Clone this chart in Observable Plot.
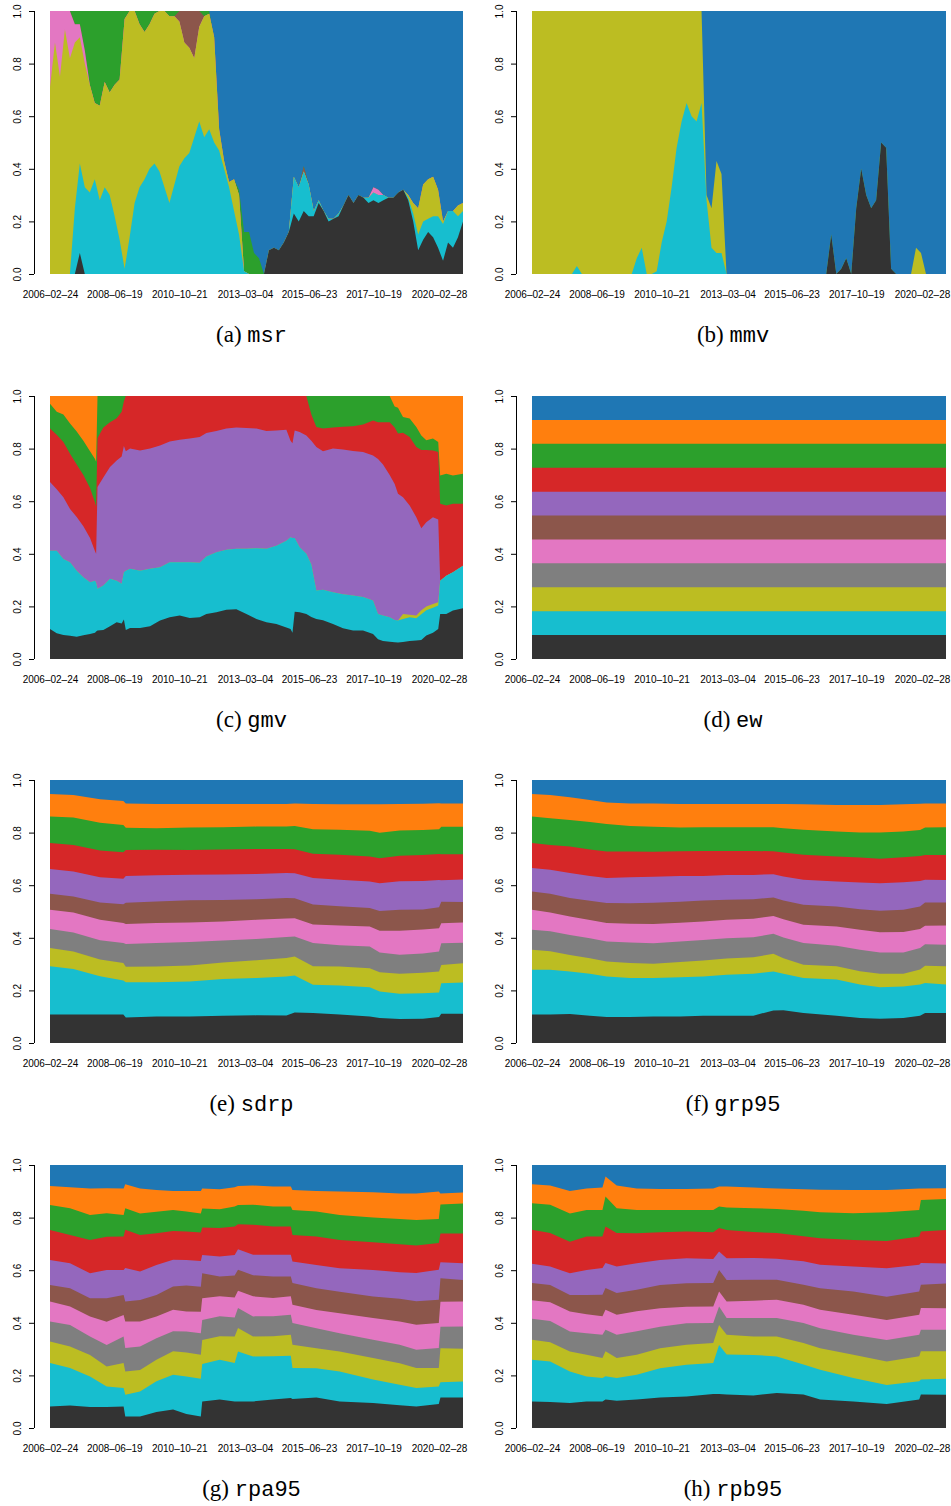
<!DOCTYPE html>
<html><head><meta charset="utf-8">
<script src="https://cdn.jsdelivr.net/npm/d3@7"></script>
<script src="https://cdn.jsdelivr.net/npm/@observablehq/plot@0.6"></script>
<style>
html,body{margin:0;padding:0;background:#fff}
body{width:951px;height:1506px;position:relative;overflow:hidden}
.panel{position:absolute}
.cap{position:absolute;text-align:center;font-family:"Liberation Serif","Times New Roman",serif;font-size:23px;line-height:24px;color:#000;white-space:nowrap}
.cap .tt{font-family:"Liberation Mono","DejaVu Sans Mono",monospace;font-size:22px}
</style></head><body>
<script>
// ---------- categories, colours, ticks ----------
const assets = ["A01","A02","A03","A04","A05","A06","A07","A08","A09","A10","A11"]; // bottom -> top
const assetColors = ["#333333","#17becf","#bcbd22","#7f7f7f","#e377c2","#8c564b","#9467bd","#d62728","#2ca02c","#ff7f0e","#1f77b4"];
const tickLabels = ["2006-02-24","2008-06-19","2010-10-21","2013-03-04","2015-06-23","2017-10-19","2020-02-28"];
const yTicks = [0, 0.2, 0.4, 0.6, 0.8, 1.0];
const START = 2006.148, END = 2021.02; // decimal years of first/last observation

// ---------- (a) msr : weights in %, 84 evenly spaced dates ----------
const msrDark = [0,0,0,0,0,0,8,0,0,0,0,0, 0,0,0,0,0,0,0,0,0,0,0,0, 0,0,0,0,0,0,0,0,0,0,0,0, 0,0,0,0,0,0,0,0,9,10,9,12, 16,23,20,24,22,22,27,24,20,21,22,26, 30,27,30,29,27,28,27,28,29,29,31,32, 28,20,9,13,16,14,10,5,12,10,14,20];
const msrCyan = [0,0,0,0,0,25,34,33,31,36,28,33, 30,22,13,2,14,27,33,36,40,42,39,33, 27,34,41,44,46,52,58,52,55,50,47,40, 33,24,15,1,0,0,0,0,0,0,0,0, 0,14,13,15,12,2,1,0,1,0,1,0, 0,0,0,0,2,3,3,2,0,0,0,0, 1,3,6,7,5,8,12,14,12,14,8,4];
const msrOlive = [71,88,75,93,82,63,48,47,41,29,36,40, 39,50,61,95,86,73,62,56,55,57,61,67, 71,64,55,44,40,30,36,46,44,40,8,3, 2,12,15,0,0,0,0,0,0,0,0,0, 0,0,0,0,0,0,0,0,0,0,0,0, 0,0,0,0,0,0,0,0,0,0,0,0, 1,4,10,14,15,15,10,1,0,0,4,3];
const msrPink = [29,12,25,7,18,7,5,5,0,0,0,0, 0,0,0,0,0,0,0,0,0,0,0,0, 0,0,0,0,0,0,0,0,0,0,0,0, 0,0,0,0,0,0,0,0,0,0,0,0, 0,0,0,0,0,0,0,0,0,0,0,0, 0,0,0,0,0,2,2,0,0,0,0,0, 0,0,0,0,0,0,0,0,0,0,0,0];
const msrBrown = [0,0,0,0,0,0,0,0,0,0,0,0, 0,0,0,0,0,0,0,0,0,0,0,0, 0,0,4,12,14,18,6,0,0,0,0,0, 0,0,0,0,0,0,0,0,0,0,0,0, 0,0,0,2,0,0,0,0,0,0,0,0, 0,0,0,0,0,0,0,0,0,0,0,0, 0,0,0,0,0,0,0,0,0,0,0,0];
const msrGreen = [0,0,0,0,0,5,5,15,28,35,36,27, 31,28,26,3,0,0,5,8,5,1,0,0, 2,2,0,0,0,0,0,2,1,0,0,0, 0,0,2,15,16,8,6,0,0,0,0,0, 0,0,0,0,0,0,0,0,0,0,0,0, 0,0,0,0,0,0,0,0,0,0,0,0, 0,0,0,0,0,0,0,0,0,0,0,0];
const msrBlue = [0,0,0,0,0,0,0,0,0,0,0,0, 0,0,0,0,0,0,0,0,0,0,0,0, 0,0,0,0,0,0,0,0,0,10,45,57, 65,64,68,84,84,92,94,100,91,90,91,88, 84,63,67,59,66,76,72,76,79,79,77,74, 70,73,70,71,71,67,68,70,71,71,69,68, 70,73,75,66,64,63,68,80,76,76,74,73];

// ---------- (b) mmv ----------
const mmvDark = [0,0,0,0,0,0,0,0,0,0,0,0, 0,0,0,0,0,0,0,0,0,0,0,0, 0,0,0,0,0,0,0,0,0,0,0,0, 0,0,0,0,0,0,0,0,0,0,0,0, 0,0,0,0,0,0,0,0,0,0,0,0, 15,0,2,6,0,25,40,30,25,28,50,48, 2,0,0,0,0,0,0,0,0,0,0,0];
const mmvCyan = [0,0,0,0,0,0,0,0,0,3,0,0, 0,0,0,0,0,0,0,0,0,6,10,0, 0,1,12,20,33,48,58,65,60,58,65,28, 10,8,8,0,0,0,0,0,0,0,0,0, 0,0,0,0,0,0,0,0,0,0,0,0, 0,0,0,0,0,0,0,0,0,0,0,0, 0,0,0,0,0,0,0,0,0,0,0,0];
const mmvOlive = [100,100,100,100,100,100,100,100,100,97,100,100, 100,100,100,100,100,100,100,100,100,94,90,100, 100,99,88,80,67,52,42,35,40,42,35,2, 15,35,30,0,0,0,0,0,0,0,0,0, 0,0,0,0,0,0,0,0,0,0,0,0, 0,0,0,0,0,0,0,0,0,0,0,0, 0,0,0,0,0,10,8,0,0,0,0,0];
const mmvBlue = [0,0,0,0,0,0,0,0,0,0,0,0, 0,0,0,0,0,0,0,0,0,0,0,0, 0,0,0,0,0,0,0,0,0,0,0,70, 75,57,62,100,100,100,100,100,100,100,100,100, 100,100,100,100,100,100,100,100,100,100,100,100, 85,100,98,94,100,75,60,70,75,72,50,52, 98,100,100,100,100,90,92,100,100,100,100,100];

// ---------- (c) gmv ----------
const gmvT = [2006.148,2006.39,2006.63,2006.87,2007.11,2007.35,2007.59,2007.77,2007.81,2007.86, 2008.07,2008.31,2008.55,2008.73,2008.81,2008.88,2009.03,2009.39,2009.75,2010.11, 2010.46,2010.82,2011.18,2011.54,2011.78,2012.14,2012.50,2012.86,2013.22,2013.58, 2013.94,2014.30,2014.66,2014.81,2014.88,2014.96,2015.14,2015.38,2015.56,2015.74, 2015.98,2016.34,2016.70,2017.06,2017.42,2017.78,2017.96,2018.14,2018.38,2018.56, 2018.68,2018.86,2019.10,2019.34,2019.52,2019.70,2019.94,2020.13,2020.20,2020.42, 2020.66,2021.02];
const gmvDark = [11.4,9.8,9.1,8.8,8.5,9.0,9.5,10.0,10.5,10.8, 11.0,12.5,14.0,13.5,15.0,11.0,11.8,11.8,12.5,14.6, 15.9,16.5,15.6,15.9,17.1,17.8,18.7,18.9,17.1,15.2, 14.0,13.3,12.0,11.4,10.0,18.0,17.8,17.1,16.0,15.2, 14.7,13.3,11.7,10.8,10.8,9.5,7.5,6.8,6.6,6.4, 6.3,6.5,6.8,7.0,7.2,8.9,10.0,11.4,17.1,17.1, 18.4,19.3];
const gmvCyan = [29.8,31.4,28.9,28.0,25.1,22.1,19.7,19.8,18.5,15.9, 16.9,18.0,15.8,15.1,18.0,22.6,22.5,21.8,21.8,20.3, 20.9,20.3,21.2,20.7,21.9,22.8,22.8,23.0,24.8,26.9, 27.9,29.8,33.0,34.9,36.0,28.0,24.7,22.9,20.0,10.8, 11.6,12.1,12.9,13.3,12.8,12.7,9.6,9.7,9.3,8.4, 8.3,8.7,9.1,8.5,9.8,9.6,9.5,8.9,12.7,14.6, 14.6,16.2];
const gmvOlive = [0,0,0,0,0,0,0,0,0,0, 0,0,0,0,0,0,0,0,0,0, 0,0,0,0,0,0,0,0,0,0, 0,0,0,0,0,0,0,0,0,0, 0,0,0,0,0,0,0,0,0,0, 0,1.9,0.9,1.0,1.5,1.5,1.4,1.3,0,0, 0,0];
const gmvPurple = [26.1,23.3,23.5,20.2,20.4,19.4,16.8,11.2,11.0,38.7, 41.1,42.5,45.7,48.4,48.0,45.4,45.7,45.7,45.7,46.3, 45.9,46.6,47.0,47.8,46.9,46.1,46.1,46.1,45.9,45.5, 44.8,43.8,42.2,36.7,36.0,40.9,43.8,45.0,47.1,54.6, 52.7,54.6,55.1,55.0,55.1,55.2,58.9,57.5,54.1,51.7, 48.2,44.4,41.6,37.4,31.2,32.0,33.0,31.4,0,0, 0,0];
const gmvRed = [20.3,20.8,21.0,21.0,20.0,19.5,19.0,18.5,18.0,18.6, 19.0,17.0,16.0,17.0,17.0,21.0,20.0,20.7,20.0,18.8, 17.3,16.6,16.2,15.6,14.1,13.3,12.4,12.0,12.2,12.4, 13.3,13.1,12.8,17.0,18.0,13.1,13.7,15.0,10.0,7.6, 8.6,8.0,8.6,9.4,10.5,13.3,14.0,16.0,20.0,21.5, 22.9,24.5,26.0,26.7,29.8,27.5,25.4,25.7,29.2,26.7, 26.0,23.5];
const gmvGreen = [9.5,8.7,10.5,11.5,12.5,13.0,14.0,16.5,17.0,16.0, 12.0,10.0,8.5,6.0,2.0,0,0,0,0,0, 0,0,0,0,0,0,0,0,0,0, 0,0,0,0,0,0,0,0,7.0,11.8, 12.4,12.0,11.7,11.5,10.8,9.3,10.0,10.0,10.0,8.0, 9.8,6.0,7.0,7.6,5.5,3.7,4.5,3.8,10.8,12.0, 10.8,11.4];
const gmvOrange = [2.9,6.0,7.0,10.5,13.5,17.0,21.0,24.0,25.0,0, 0,0,0,0,0,0,0,0,0,0, 0,0,0,0,0,0,0,0,0,0, 0,0,0,0,0,0,0,0,0,0, 0,0,0,0,0,0,0,0,0,4.0, 4.5,8.0,8.6,11.8,15.0,16.8,16.2,17.5,30.2,29.6, 30.2,29.6];

// ---------- (d) ew ----------
const ewT = [2006.148, 2021.02];
const ewW = [[9.09,9.09,9.09,9.09,9.09,9.09,9.09,9.09,9.09,9.09,9.09],[9.09,9.09,9.09,9.09,9.09,9.09,9.09,9.09,9.09,9.09,9.09]];

// ---------- (e) sdrp : rows = dates, columns = assets A01..A11 (%) ----------
const sdrpT = [2006.148,2006.99,2007.95,2008.79,2008.88,2009.98,2011.18,2012.38,2013.58,2014.66,2014.96,2015.62,2016.58,2017.66,2018.02,2018.74,2019.58,2020.16,2020.24,2021.02];
const sdrpW = [
[10.8,18.4,7.0,7.2,7.3,6.1,9.4,9.9,10.1,8.6,5.3],
[10.8,17.3,6.7,7.2,7.6,6.1,9.5,10.1,10.4,8.6,5.7],
[10.8,14.6,6.3,7.3,7.8,6.6,9.6,10.1,10.6,8.9,7.3],
[10.8,13.0,6.6,7.6,7.6,7.2,9.7,10.0,10.4,9.1,8.0],
[9.7,13.4,5.9,8.6,7.6,8.1,10.1,9.9,8.5,9.2,8.9],
[10.1,13.0,5.9,8.9,7.6,8.2,10.0,9.6,8.2,9.2,9.1],
[10.1,13.3,6.1,8.9,7.5,8.4,9.7,9.5,8.5,9.0,9.1],
[10.4,13.9,6.3,8.4,7.2,8.2,9.7,9.5,8.4,8.9,9.1],
[10.5,14.2,6.7,8.1,7.3,7.8,9.6,9.5,8.5,8.6,9.1],
[10.5,14.8,7.0,8.0,7.0,7.8,9.5,9.2,8.5,8.6,9.1],
[11.6,14.1,7.2,7.6,7.0,7.6,9.5,9.1,8.9,8.6,8.9],
[11.4,10.8,7.0,8.9,7.0,7.6,10.1,9.2,9.4,9.6,9.1],
[10.8,11.0,7.3,8.0,7.5,7.3,10.1,9.5,9.5,9.7,9.2],
[10.1,11.1,7.2,8.2,7.6,7.0,10.1,9.5,9.7,10.1,9.2],
[9.5,10.1,7.3,7.5,8.2,7.5,10.6,9.5,9.7,10.8,9.2],
[9.1,9.6,7.6,7.2,9.1,8.0,10.8,9.7,9.6,10.1,9.1],
[9.2,9.7,7.8,7.3,9.1,7.6,10.8,9.9,9.5,10.0,9.0],
[9.9,9.4,8.0,7.6,8.9,8.0,10.4,9.9,9.4,9.9,8.9],
[11.1,11.6,7.0,8.2,7.6,8.2,8.2,9.9,10.4,8.9,8.9],
[11.1,11.9,7.3,7.8,7.7,7.8,8.5,9.6,10.4,8.9,8.9]];

// ---------- (f) grp95 ----------
const grp95T = [2006.148,2006.80,2007.51,2008.23,2008.83,2009.67,2010.51,2011.47,2012.30,2013.14,2014.10,2014.82,2015.18,2015.90,2017.09,2017.93,2018.65,2019.49,2020.09,2020.27,2021.02];
const grp95W = [
[10.8,17.1,7.6,7.6,7.6,7.0,8.9,9.5,10.1,8.6,5.3],
[10.8,17.1,7.0,7.6,7.2,7.1,9.1,9.5,10.1,8.9,5.7],
[11.0,16.2,6.3,7.6,7.0,7.0,9.5,10.1,10.1,8.6,6.6],
[10.4,15.9,5.9,7.6,7.0,7.3,9.4,10.1,10.4,8.4,7.6],
[9.9,15.4,5.7,7.6,7.0,7.6,9.5,10.1,10.5,8.1,8.6],
[9.9,14.8,5.7,7.8,7.1,7.8,9.9,9.7,9.7,8.6,8.9],
[10.1,14.6,5.4,7.8,7.3,8.1,9.9,9.5,9.5,8.9,8.9],
[10.1,14.9,5.8,7.8,7.1,8.0,9.7,9.4,9.1,8.9,9.1],
[10.4,14.9,6.1,7.8,7.0,8.0,9.4,9.5,9.0,8.9,9.1],
[10.4,15.6,6.2,7.7,7.0,7.6,9.4,9.2,9.0,8.9,9.1],
[10.4,15.9,6.3,7.6,7.0,7.5,9.2,9.1,9.0,8.9,9.1],
[12.4,14.8,6.7,7.6,6.8,7.0,8.9,8.7,9.1,8.9,9.1],
[12.4,13.9,5.9,7.8,7.0,7.1,9.1,9.1,9.2,9.2,9.1],
[11.4,13.3,5.1,8.2,7.0,7.6,9.5,9.5,9.5,9.7,9.2],
[10.4,13.7,5.1,7.8,7.3,7.6,9.5,9.5,9.5,10.1,9.5],
[9.5,12.7,5.1,8.2,7.6,7.8,10.1,9.5,9.5,10.5,9.5],
[9.2,12.0,5.1,8.1,7.7,8.2,10.4,9.4,9.9,10.5,9.5],
[9.5,12.0,4.8,8.1,7.8,8.4,10.5,9.5,9.7,10.4,9.2],
[10.4,11.8,5.7,8.2,7.2,8.6,9.7,9.5,9.9,10.0,9.0],
[11.4,11.4,6.6,8.2,7.0,8.9,8.6,9.5,10.4,9.2,8.9],
[11.4,10.8,7.0,8.2,7.3,8.7,8.6,9.5,10.5,9.1,8.9]];

// ---------- (g) rpa95 ----------
const rpa95T = [2006.148,2006.87,2007.59,2008.19,2008.80,2008.86,2009.39,2009.98,2010.58,2011.06,2011.58,2011.63,2012.26,2012.80,2012.92,2013.46,2014.18,2014.82,2014.88,2015.74,2016.58,2017.78,2018.74,2019.34,2020.15,2020.21,2021.02];
const rpa95W = [
[8.2,16.5,8.2,7.6,7.6,6.3,9.5,11.4,9.5,7.2,8.0],
[8.6,14.2,8.2,8.2,7.0,7.0,9.5,10.8,10.1,8.0,8.5],
[8.0,11.6,8.2,7.0,7.6,7.0,9.5,12.7,9.5,10.1,8.9],
[8.0,7.8,7.6,8.2,8.9,8.9,10.8,12.7,8.9,9.5,8.9],
[8.2,7.0,9.5,10.1,8.2,7.6,9.5,12.7,8.2,10.1,8.9],
[4.4,8.2,8.9,8.9,10.1,7.6,12.7,14.6,8.2,9.1,7.3],
[4.4,9.5,8.2,8.9,9.5,8.2,10.8,13.9,8.2,9.5,8.9],
[6.1,11.6,8.2,8.2,8.2,8.2,11.4,12.0,8.2,8.2,9.5],
[7.0,13.3,8.9,7.6,8.2,8.9,10.1,11.0,8.0,7.2,9.9],
[5.3,14.3,9.1,8.0,7.6,9.9,9.7,10.8,7.6,7.8,9.9],
[4.4,14.3,9.1,8.2,8.2,9.5,9.7,10.9,7.2,8.5,9.9],
[10.1,14.2,9.2,7.6,8.2,9.5,7.0,10.4,7.3,7.6,8.9],
[10.8,15.2,8.9,7.6,7.6,7.6,7.6,10.8,7.2,7.6,9.2],
[10.1,14.6,10.1,7.2,7.6,8.4,7.8,10.8,7.6,7.3,8.5],
[10.1,19.0,8.9,7.6,6.6,8.0,7.8,9.5,7.3,7.2,8.0],
[10.1,17.1,7.6,7.6,7.6,8.0,7.8,11.4,7.6,7.3,7.8],
[10.8,16.5,7.6,7.6,7.0,8.2,8.2,10.8,7.6,7.6,8.2],
[11.4,16.1,8.0,7.6,7.0,7.6,8.2,10.8,7.6,7.6,8.2],
[11.0,11.8,8.9,8.2,7.0,8.2,8.2,10.1,9.5,7.6,9.5],
[11.6,11.1,7.6,7.6,7.0,8.2,8.9,10.8,9.5,7.8,9.9],
[10.1,11.4,7.6,7.0,7.6,8.2,8.9,10.8,9.5,8.9,10.1],
[9.5,8.9,8.2,7.0,8.2,8.2,10.1,10.5,9.4,9.6,10.4],
[8.6,7.8,8.2,7.0,8.9,8.6,10.1,10.6,9.6,9.7,10.8],
[8.2,7.0,7.6,7.0,9.5,8.9,10.8,10.5,9.7,10.1,10.8],
[9.1,6.7,7.0,7.6,9.5,8.9,11.4,10.1,9.2,10.4,10.1],
[11.6,5.8,12.9,8.2,9.5,8.9,6.1,11.0,11.0,4.2,10.8],
[11.6,6.1,12.4,8.5,9.5,8.2,6.3,11.4,11.4,4.1,10.5]];

// ---------- (h) rpb95 ----------
const rpb95T = [2006.148,2006.80,2007.51,2008.11,2008.68,2008.79,2009.19,2009.91,2010.75,2011.70,2012.66,2012.87,2013.14,2014.10,2014.94,2015.90,2016.50,2017.69,2018.89,2020.06,2020.12,2021.02];
const rpb95W = [
[10.1,15.8,7.6,8.0,7.0,6.6,7.3,12.9,10.1,7.2,7.3],
[9.9,15.4,7.3,8.1,7.1,6.6,7.0,12.7,10.8,7.3,7.8],
[9.5,12.0,7.6,7.6,7.6,6.3,8.2,12.0,10.8,8.5,9.9],
[10.1,9.5,8.2,8.2,7.2,7.3,9.5,12.7,10.1,8.2,8.9],
[10.1,8.9,7.6,8.9,7.0,8.2,10.1,12.0,10.1,8.5,8.6],
[10.8,8.9,9.5,8.2,7.6,8.2,9.5,13.9,11.4,7.6,4.4],
[10.4,8.6,7.6,8.9,7.6,8.2,10.1,12.7,9.5,8.6,7.8],
[10.8,9.5,7.6,8.9,7.6,8.2,10.1,11.4,8.9,8.2,8.9],
[11.6,11.1,7.6,8.2,7.0,8.9,9.5,10.5,8.5,8.0,9.1],
[12.0,12.0,7.6,8.2,6.3,8.9,9.5,10.1,8.2,8.0,9.1],
[12.9,11.8,7.6,7.6,6.3,8.9,9.2,10.1,8.5,8.2,8.9],
[12.9,18.7,7.6,7.0,5.7,8.2,7.0,8.9,8.2,7.6,8.2],
[12.7,15.2,7.6,6.3,6.3,8.2,8.2,10.8,8.5,8.0,8.2],
[12.4,15.4,7.0,7.0,6.6,8.0,8.2,9.9,9.1,7.8,8.6],
[13.3,13.9,7.6,7.0,7.0,7.6,8.0,9.7,9.2,7.8,8.9],
[12.7,11.4,8.2,7.6,7.0,7.6,8.9,9.5,9.7,8.2,9.2],
[10.8,11.4,8.2,7.6,7.0,8.2,8.9,10.1,9.9,8.6,9.4],
[10.1,8.9,8.9,7.6,7.6,8.9,9.5,10.1,10.1,8.9,9.5],
[9.1,7.3,8.9,8.2,7.6,8.9,10.8,10.4,10.9,8.5,9.5],
[10.8,7.0,9.5,8.2,7.6,8.9,10.1,10.8,10.1,8.2,8.9],
[12.7,5.7,10.8,8.2,8.2,8.9,8.2,12.0,12.0,4.4,8.9],
[12.7,6.1,10.4,8.2,8.2,9.5,7.6,12.7,11.8,4.1,8.9]];

// ---------- helpers ----------
function yr(y){ const Y = Math.floor(y); return new Date(Date.UTC(Y,0,1) + (y - Y) * 365.25 * 864e5); }
function grid(n){ return d3.range(n).map(i => START + i * (END - START) / (n - 1)); }
const d0 = yr(START), d1 = yr(END);

const panels = [
  {tag:"a", name:"msr",   col:0, row:0, times:grid(84), series:{0:msrDark,1:msrCyan,2:msrOlive,4:msrPink,5:msrBrown,8:msrGreen,10:msrBlue}},
  {tag:"b", name:"mmv",   col:1, row:0, times:grid(84), series:{0:mmvDark,1:mmvCyan,2:mmvOlive,10:mmvBlue}},
  {tag:"c", name:"gmv",   col:0, row:1, times:gmvT, series:{0:gmvDark,1:gmvCyan,2:gmvOlive,6:gmvPurple,7:gmvRed,8:gmvGreen,9:gmvOrange}},
  {tag:"d", name:"ew",    col:1, row:1, times:ewT,    rows:ewW},
  {tag:"e", name:"sdrp",  col:0, row:2, times:sdrpT,  rows:sdrpW},
  {tag:"f", name:"grp95", col:1, row:2, times:grp95T, rows:grp95W},
  {tag:"g", name:"rpa95", col:0, row:3, times:rpa95T, rows:rpa95W},
  {tag:"h", name:"rpb95", col:1, row:3, times:rpb95T, rows:rpb95W}
];
const cols = [{left:0, width:475, mr:12, capLeft:0, capW:503}, {left:482, width:469, mr:5, capLeft:482, capW:502}];
const rowTops = [0, 385, 769, 1154];

function buildSeries(p){
  const n = p.times.length;
  return assets.map((a, k) => {
    if (p.rows) return p.rows.map(r => r[k] || 0);
    const s = p.series[k];
    return s ? d3.range(n).map(j => s[j] || 0) : null;
  });
}

for (const p of panels) {
  const n = p.times.length;
  const dates = p.times.map(yr);
  const W = buildSeries(p);
  // cumulative upper edge of each asset band (normalised so each date sums to 1)
  const tops = [];
  for (let j = 0; j < n; j++) {
    let total = 0;
    for (let k = 0; k < 11; k++) total += W[k] ? W[k][j] : 0;
    let run = 0;
    for (let k = 0; k < 11; k++) {
      run += W[k] ? W[k][j] : 0;
      (tops[k] = tops[k] || [])[j] = run / total;
    }
  }
  const areaMarks = [];
  for (let k = 10; k >= 0; k--) {
    if (!W[k] || !W[k].some(v => v > 0)) continue;
    const data = d3.range(n).map(j => ({date: dates[j], top: tops[k][j], asset: assets[k]}));
    areaMarks.push(Plot.areaY(data, {x: "date", y1: 0, y2: "top", fill: assetColors[k]}));
  }
  const c = cols[p.col];
  const chart = Plot.plot({
    width: c.width, height: 314,
    marginTop: 11, marginBottom: 40, marginLeft: 50, marginRight: c.mr,
    x: {type: "utc", domain: [d0, d1], axis: null},
    y: {domain: [0, 1], axis: null},
    style: {fontFamily: "'Liberation Sans', Arial, Helvetica, sans-serif", fontSize: "10px", color: "#000", background: "transparent", overflow: "visible"},
    marks: [
      ...areaMarks,
      Plot.ruleX([d0], {y1: 0, y2: 1, dx: -16, stroke: "#000", strokeWidth: 1}),
      Plot.ruleY(yTicks, {x1: () => d0, x2: () => d0, insetLeft: -5, dx: -16, stroke: "#000", strokeWidth: 1}),
      Plot.text(yTicks, {x: () => d0, y: d => d, text: d => d.toFixed(1), rotate: -90, dx: -33, fontSize: 10, fill: "#000"}),
      Plot.text(tickLabels, {x: d => new Date(d + "T00:00:00Z"), y: () => 0, text: d => d.replace(/-/g, "\u2013"), dy: 20, fontSize: 10, fill: "#000"})
    ]
  });
  const holder = document.createElement("div");
  holder.className = "panel";
  holder.style.left = c.left + "px";
  holder.style.top = rowTops[p.row] + "px";
  holder.appendChild(chart);
  document.body.appendChild(holder);

  const cap = document.createElement("div");
  cap.className = "cap";
  cap.style.left = c.capLeft + "px";
  cap.style.width = c.capW + "px";
  cap.style.top = (rowTops[p.row] + 323) + "px";
  cap.innerHTML = "(" + p.tag + ") <span class=\"tt\">" + p.name + "</span>";
  document.body.appendChild(cap);
}
</script>
</body></html>
